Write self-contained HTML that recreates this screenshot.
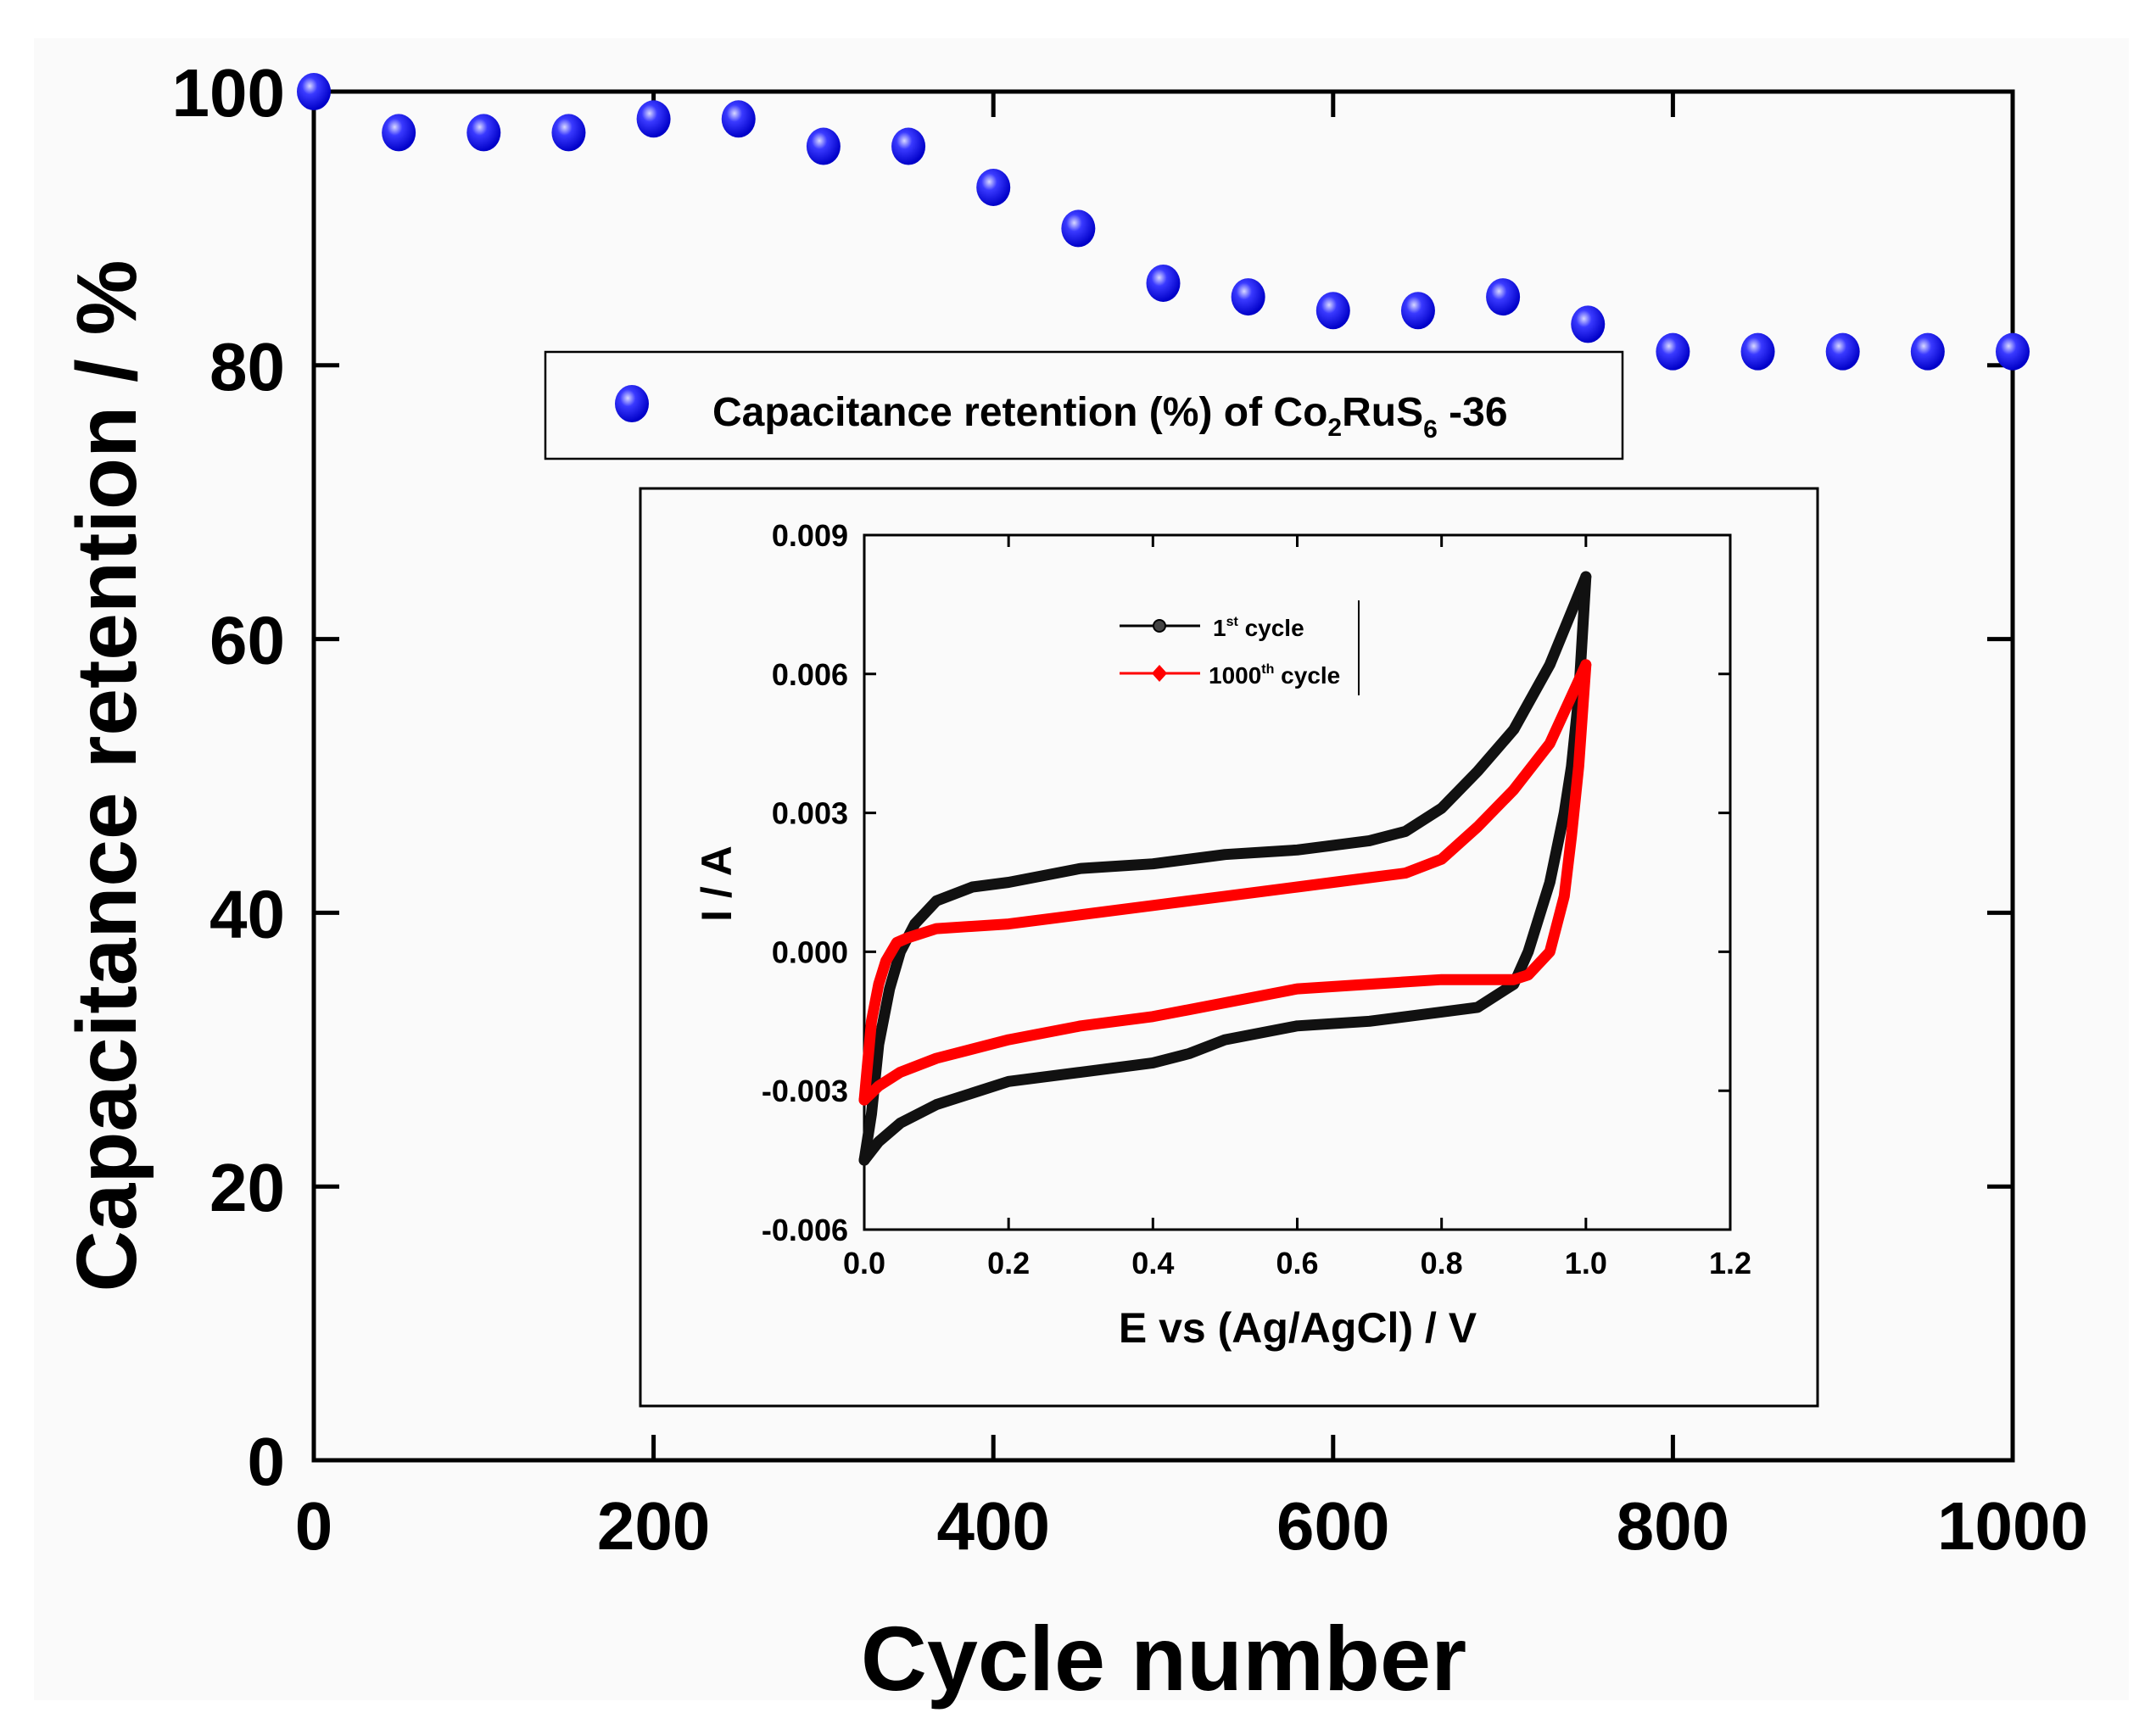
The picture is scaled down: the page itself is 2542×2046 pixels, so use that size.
<!DOCTYPE html>
<html><head><meta charset="utf-8"><style>
html,body{margin:0;padding:0;background:#fff;}
svg{display:block;font-family:"Liberation Sans",Arial,sans-serif;}
</style></head><body>
<svg id="chart" width="2542" height="2046" viewBox="0 0 2542 2046" xmlns="http://www.w3.org/2000/svg">
<defs>
<radialGradient id="ball" cx="0.38" cy="0.35" r="0.65">
<stop offset="0" stop-color="#d8d8ff"/><stop offset="0.35" stop-color="#3a3aff"/><stop offset="1" stop-color="#0000c8"/>
</radialGradient>
</defs>
<rect x="40" y="45" width="2470" height="1960" fill="#fafafa"/>
<g id="main"></g>
<g id="inset"></g>
</svg>
<script>
const cycles=[0,50,100,150,200,250,300,350,400,450,500,550,600,650,700,750,800,850,900,950,1000];
const retention=[100,97,97,97,98,98,96,96,93,90,86,85,84,84,85,83,81,81,81,81,81];
const xTicks=[0,200,400,600,800,1000];
const yTicks=[0,20,40,60,80,100];

const cvE1=[0,0.01,0.02,0.035,0.05,0.07,0.1,0.15,0.2,0.3,0.4,0.5,0.6,0.7,0.75,0.8,0.85,0.9,0.95,1.0];
const cvI1up=[-0.0045,-0.0035,-0.002,-0.0008,0.0,0.0006,0.0011,0.0014,0.0015,0.0018,0.0019,0.0021,0.0022,0.0024,0.0026,0.0031,0.0039,0.0048,0.0062,0.0081];
const cvE1dn=[1.0,0.99,0.98,0.97,0.95,0.92,0.9,0.85,0.8,0.7,0.6,0.5,0.45,0.4,0.3,0.2,0.1,0.05,0.02,0.0];
const cvI1dn=[0.0081,0.0055,0.004,0.003,0.0015,0.0,-0.0007,-0.0012,-0.0013,-0.0015,-0.0016,-0.0019,-0.0022,-0.0024,-0.0026,-0.0028,-0.0033,-0.0037,-0.0041,-0.0045];
const cvE2=[0,0.01,0.02,0.03,0.045,0.06,0.1,0.2,0.3,0.4,0.5,0.6,0.7,0.75,0.8,0.85,0.9,0.95,1.0];
const cvI2up=[-0.0032,-0.0015,-0.0007,-0.0002,0.0002,0.0003,0.0005,0.0006,0.0008,0.001,0.0012,0.0014,0.0016,0.0017,0.002,0.0027,0.0035,0.0045,0.0062];
const cvE2dn=[1.0,0.99,0.98,0.97,0.95,0.92,0.9,0.85,0.8,0.7,0.6,0.5,0.4,0.3,0.2,0.1,0.05,0.02,0.0];
const cvI2dn=[0.0062,0.004,0.0025,0.0012,0.0,-0.0005,-0.0006,-0.0006,-0.0006,-0.0007,-0.0008,-0.0011,-0.0014,-0.0016,-0.0019,-0.0023,-0.0026,-0.0029,-0.0032];
const insetXTicks=[0.0,0.2,0.4,0.6,0.8,1.0,1.2];
const insetYTicks=[-0.006,-0.003,0.000,0.003,0.006,0.009];

const NS="http://www.w3.org/2000/svg";
function mk(parent,tag,attrs,text){const e=document.createElementNS(NS,tag);for(const k in attrs)e.setAttribute(k,attrs[k]);if(text!==undefined)e.textContent=text;parent.appendChild(e);return e;}

const L=370,R=2373,T=108,B=1722;
const sx=v=>L+(v-0)/(1000-0)*(R-L);
const sy=v=>B-(v-0)/(100-0)*(B-T);
const main=document.getElementById('main');
let fr=mk(main,'rect',{x:L,y:T,width:R-L,height:B-T,fill:'none',stroke:'#000','stroke-width':5});


xTicks.forEach(v=>{
 let t=mk(main,'path',{d:`M${sx(v)},${B}v-30M${sx(v)},${T}v30`,stroke:'#000','stroke-width':5});
 
 
 let l=mk(main,'text',{x:sx(v),y:1827,'font-size':80,'font-weight':'bold','text-anchor':'middle'},String(v));
 
 
});
yTicks.forEach(v=>{
 let t=mk(main,'path',{d:`M${L},${sy(v)}h30M${R},${sy(v)}h-30`,stroke:'#000','stroke-width':5});
 
 
 let l=mk(main,'text',{x:336,y:sy(v)+29,'font-size':80,'font-weight':'bold','text-anchor':'end'},String(v));
 
 
});
let xt=mk(main,'text',{x:1372,y:1993,'font-size':108,'font-weight':'bold','text-anchor':'middle'},'Cycle number');


let yt=mk(main,'text',{x:0,y:0,'font-size':100,'font-weight':'bold','text-anchor':'middle',transform:'translate(160,915) rotate(-90)'},'Capacitance retention / %');


cycles.forEach((c,i)=>{
 let p=mk(main,'ellipse',{cx:sx(c),cy:sy(retention[i]),rx:20,ry:22,fill:'url(#ball)'});
 
 
});
let lg=mk(main,'g',{});


mk(lg,'rect',{x:643,y:415,width:1270,height:126,fill:'#fafafa',stroke:'#000','stroke-width':2.5});
mk(lg,'ellipse',{cx:745,cy:476,rx:20,ry:22,fill:'url(#ball)'});
let lt=mk(lg,'text',{x:840,y:502,'font-size':48,'font-weight':'bold'});


lt.innerHTML='Capacitance retention (%) of Co<tspan font-size="30" dy="12">2</tspan><tspan dy="-12">RuS</tspan><tspan font-size="30" dy="14">6</tspan><tspan dy="-14"> -36</tspan>';

const ins=document.getElementById('inset');
let ib=mk(ins,'rect',{x:755,y:576,width:1388,height:1082,fill:'#fafafa',stroke:'#000','stroke-width':3});


const iL=1019,iR=2040,iT=631,iB=1450;
const ix=v=>iL+(v-0)/(1.2-0)*(iR-iL);
const iy=v=>iB-(v+0.006)/(0.015)*(iB-iT);
let ia=mk(ins,'rect',{x:iL,y:iT,width:iR-iL,height:iB-iT,fill:'none',stroke:'#000','stroke-width':3});


insetXTicks.forEach(v=>{
 let t=mk(ins,'path',{d:`M${ix(v)},${iB}v-14M${ix(v)},${iT}v14`,stroke:'#000','stroke-width':3});
 
 
 let l=mk(ins,'text',{x:ix(v),y:1502,'font-size':36,'font-weight':'bold','text-anchor':'middle'},v.toFixed(1));
 
 
});
insetYTicks.forEach(v=>{
 let t=mk(ins,'path',{d:`M${iL},${iy(v)}h14M${iR},${iy(v)}h-14`,stroke:'#000','stroke-width':3});
 
 
 let l=mk(ins,'text',{x:1000,y:iy(v)+13,'font-size':36,'font-weight':'bold','text-anchor':'end'},v.toFixed(3));
 
 
});
let ixt=mk(ins,'text',{x:1530,y:1583,'font-size':50,'font-weight':'bold','text-anchor':'middle'},'E vs (Ag/AgCl) / V');


let iyt=mk(ins,'text',{x:0,y:0,'font-size':50,'font-weight':'bold','text-anchor':'middle',transform:'translate(862,1042) rotate(-90)'},'I / A');


function curve(E,I,color,name){
 const d=E.map((e,i)=>(i?'L':'M')+ix(e).toFixed(1)+','+iy(I[i]).toFixed(1)).join('');
 let p=mk(ins,'path',{d:d,fill:'none',stroke:color,'stroke-width':13,'stroke-linejoin':'round','stroke-linecap':'round'});
 
 
}
curve(cvE1,cvI1up,'#111','cycle1-anodic-curve');
curve(cvE1dn,cvI1dn,'#111','cycle1-cathodic-curve');
curve(cvE2,cvI2up,'#ff0000','cycle1000-anodic-curve');
curve(cvE2dn,cvI2dn,'#ff0000','cycle1000-cathodic-curve');
let il=mk(ins,'g',{});


mk(il,'path',{d:'M1320,738h95',stroke:'#000','stroke-width':3});
mk(il,'circle',{cx:1367,cy:738,r:7,fill:'#444',stroke:'#000','stroke-width':2});
mk(il,'path',{d:'M1320,794h95',stroke:'#f00','stroke-width':3});
mk(il,'path',{d:'M1367,784l9,10l-9,10l-9,-10z',fill:'#f00'});
let e1=mk(il,'text',{x:1430,y:750,'font-size':28,'font-weight':'bold'});
e1.innerHTML='1<tspan font-size="16" dy="-12">st</tspan><tspan dy="12"> cycle</tspan>';


let e2=mk(il,'text',{x:1425,y:806,'font-size':28,'font-weight':'bold'});
e2.innerHTML='1000<tspan font-size="16" dy="-12">th</tspan><tspan dy="12"> cycle</tspan>';


mk(il,'path',{d:'M1602,708v112',stroke:'#000','stroke-width':2});
</script>
</body></html>
